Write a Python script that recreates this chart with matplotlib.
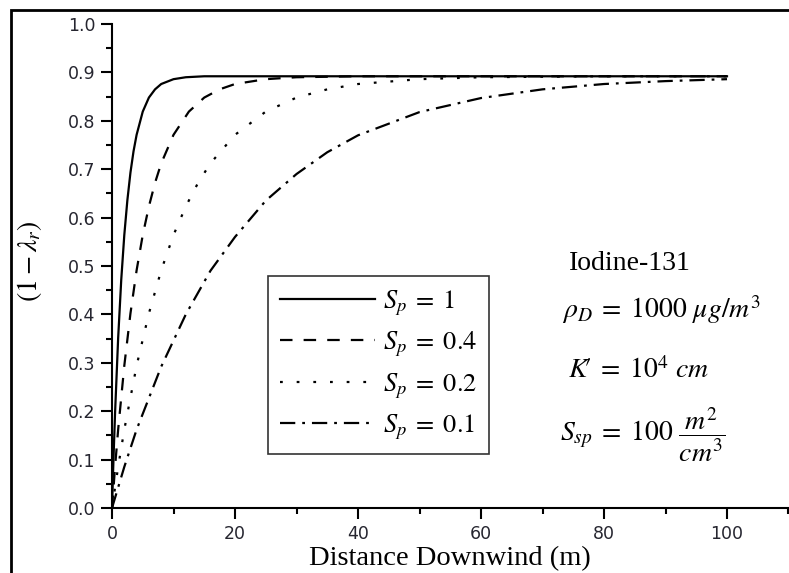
import numpy as np
import matplotlib
matplotlib.use('Agg')
import matplotlib.pyplot as plt
from matplotlib.patches import Rectangle

plt.rcParams['mathtext.fontset'] = 'stix'
plt.rcParams['lines.scale_dashes'] = False

# values
x_sp1 = [0, 0.25, 0.5, 1, 1.5, 2, 2.5, 3, 3.5, 4, 5, 6, 7, 8, 10, 12, 15, 100]
y_sp1 = [0, 0.105, 0.197, 0.351, 0.471, 0.564, 0.636, 0.693, 0.737, 0.771,
         0.819, 0.848, 0.865, 0.876, 0.886, 0.890, 0.892, 0.892]

x_sp04 = [0, 0.5, 1, 2, 3, 4, 5, 6, 7, 8, 10, 12.5, 15, 17.5, 20, 25, 30, 40, 100]
y_sp04 = [0, 0.085, 0.162, 0.294, 0.402, 0.491, 0.564, 0.623, 0.672, 0.712,
          0.771, 0.819, 0.848, 0.865, 0.876, 0.886, 0.890, 0.892, 0.892]

x_sp02 = [0, 1, 2, 4, 6, 8, 10, 12, 14, 16, 20, 25, 30, 35, 40, 50, 60, 80, 100]
y_sp02 = [0, 0.085, 0.162, 0.294, 0.402, 0.491, 0.564, 0.623, 0.672, 0.712,
          0.771, 0.819, 0.848, 0.865, 0.876, 0.886, 0.890, 0.892, 0.892]

x_sp01 = [0, 2, 4, 8, 12, 16, 20, 25, 30, 35, 40, 50, 60, 70, 80, 90, 100]
y_sp01 = [0, 0.085, 0.162, 0.292, 0.400, 0.490, 0.560, 0.635, 0.690, 0.735,
          0.770, 0.818, 0.847, 0.865, 0.876, 0.882, 0.886]

labels = [r'$S_p\;=\;1$', r'$S_p\;=\;0.4$', r'$S_p\;=\;0.2$', r'$S_p\;=\;0.1$']

fig = plt.figure(figsize=(7.89, 5.73), dpi=100, facecolor='white')
ax = fig.add_axes([112/789, 65/573, 676.5/789, 484/573])

lw = 1.6
ax.plot(x_sp1, y_sp1, color='black', lw=lw, ls='-', label=labels[0])
ax.plot(x_sp04, y_sp04, color='black', lw=lw, ls=(0, (9, 8)), label=labels[1])
ax.plot(x_sp02, y_sp02, color='black', lw=lw, ls=(0, (2, 10)), label=labels[2])
ax.plot(x_sp01, y_sp01, color='black', lw=lw, ls=(0, (11, 5, 2, 5)), label=labels[3])

ax.set_xlim(0, 110)
ax.set_ylim(0, 1.0)
ax.set_xticks(np.arange(0, 101, 20))
ax.set_xticks(np.arange(10, 111, 20), minor=True)
ax.set_yticks(np.arange(0, 1.01, 0.1))
ax.set_yticks(np.arange(0.05, 1.0, 0.1), minor=True)
ax.set_yticklabels(['%.1f' % v for v in np.arange(0, 1.01, 0.1)])

for s in ['top', 'right']:
    ax.spines[s].set_visible(False)
for s in ['left', 'bottom']:
    ax.spines[s].set_linewidth(1.5)

ax.tick_params(which='major', direction='out', length=8, width=1.5,
               labelsize=12.5, labelcolor='#262630', pad=4)
ax.tick_params(which='minor', direction='out', length=4, width=1.5)

ax.set_xlabel('Distance Downwind (m)', family='Liberation Serif', fontsize=20.5)
ax.xaxis.set_label_coords(0.5, -0.078)
ax.set_ylabel(r'$(1-\lambda_r)$', fontsize=20)
ax.yaxis.set_label_coords(-0.1, 0.51)

leg = ax.legend(loc='upper left', bbox_to_anchor=(0.2306, 0.479), fontsize=19,
                handlelength=3.6, labelspacing=0.45, borderpad=0.45,
                handletextpad=0.3, borderaxespad=0, fancybox=False, framealpha=1)
leg.get_frame().set_edgecolor('#333333')
leg.get_frame().set_linewidth(1.2)

ax.text(0.6755, 0.506, 'Iodine-131', transform=ax.transAxes,
        family='Liberation Serif', fontsize=20, va='center', ha='left')
ax.text(0.665, 0.409, r'$\rho_D\;=\;1000\ \mu g/m^3$', transform=ax.transAxes,
        fontsize=20, va='center', ha='left')
ax.text(0.674, 0.285, r"$K\!′\;=\;10^4\ cm$", transform=ax.transAxes,
        fontsize=20, va='center', ha='left')
ax.text(0.662, 0.151, r'$S_{sp}\;=\;100\ \dfrac{m^2}{cm^3}$', transform=ax.transAxes,
        fontsize=20, va='center', ha='left')

# outer frame of the picture (cut at right and bottom)
fig.add_artist(Rectangle((11/789, -0.1), 1.2, 1 - 10/573 + 0.1,
                         transform=fig.transFigure, fill=False,
                         edgecolor='black', lw=2))

fig.savefig('out.png', dpi=100, facecolor='white')
